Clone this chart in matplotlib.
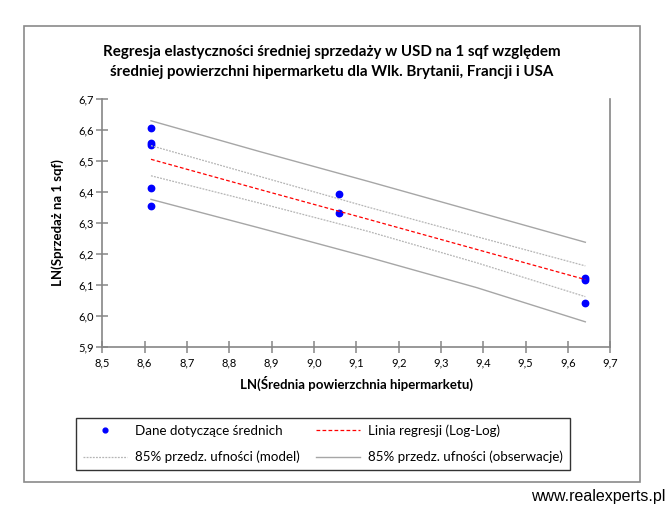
import matplotlib
matplotlib.use("Agg")
import matplotlib.pyplot as plt
from matplotlib.patches import Rectangle
from matplotlib.ticker import FuncFormatter, MultipleLocator

plt.rcParams['font.family'] = ['Lato', 'DejaVu Sans']

# ---- data ----
x_points = [8.615, 8.615, 8.615, 8.615, 8.615, 9.06, 9.06, 9.641, 9.641, 9.641]
y_points = [6.607, 6.556, 6.550, 6.412, 6.355, 6.392, 6.331, 6.122, 6.117, 6.042]

x_line = [8.615, 8.8715, 9.128, 9.3845, 9.641]
y_reg = [6.505, 6.408, 6.312, 6.215, 6.118]
model_upper = [6.549, 6.450, 6.351, 6.256, 6.162]
model_lower = [6.452, 6.364, 6.273, 6.172, 6.063]
obs_upper = [6.629, 6.530, 6.434, 6.336, 6.238]
obs_lower = [6.376, 6.284, 6.190, 6.092, 5.982]

title = ("Regresja elastyczności średniej sprzedaży w USD na 1 sqf względem\n"
         "średniej powierzchni hipermarketu dla Wlk. Brytanii, Francji i USA")
xlabel = "LN(Średnia powierzchnia hipermarketu)"
ylabel = "LN(Sprzedaż na 1 sqf)"
labels = ["Dane dotyczące średnich", "Linia regresji (Log-Log)",
          "85% przedz. ufności (model)", "85% przedz. ufności (obserwacje)"]

W, H = 671, 513
fig = plt.figure(figsize=(W / 100, H / 100), dpi=100)
fig.patch.set_facecolor('white')

# outer chart border
fig.add_artist(Rectangle((24 / W, 1 - 482 / H), (640 - 24) / W, (482 - 26) / H,
                         transform=fig.transFigure, fill=False,
                         edgecolor='#8a8a8a', linewidth=1.2))

ax = fig.add_axes([102.3 / W, 1 - 347.3 / H, (610.3 - 102.3) / W, (347.3 - 98.7) / H])
ax.set_xlim(8.5, 9.7)
ax.set_ylim(5.9, 6.7)

sc, = ax.plot(x_points, y_points, 'o', color='#0000ff', markersize=4.6,
              linestyle='none', label=labels[0])
reg, = ax.plot(x_line, y_reg, color='#ff0000', linewidth=0.9,
               dashes=(3, 1.8), label=labels[1])
mu, = ax.plot(x_line, model_upper, color='#b5b5b5', linewidth=0.9,
              dashes=(1.5, 1.0), label=labels[2])
ax.plot(x_line, model_lower, color='#b5b5b5', linewidth=0.9, dashes=(1.5, 1.0))
ou, = ax.plot(x_line, obs_upper, color='#a6a6a6', linewidth=1.0, label=labels[3])
ax.plot(x_line, obs_lower, color='#a6a6a6', linewidth=1.0)

for s in ['left', 'bottom', 'right']:
    ax.spines[s].set_color('#868686')
    ax.spines[s].set_linewidth(1.2)
ax.spines['top'].set_visible(False)

ax.xaxis.set_major_locator(MultipleLocator(0.1))
ax.yaxis.set_major_locator(MultipleLocator(0.1))
fmt = FuncFormatter(lambda v, p: f"{v:.1f}".replace('.', ','))
ax.xaxis.set_major_formatter(fmt)
ax.yaxis.set_major_formatter(fmt)
ax.tick_params(axis='both', direction='inout', length=8, width=1.1,
               color='#868686', labelsize=8, labelcolor='#000000')
ax.tick_params(axis='x', pad=3)
ax.tick_params(axis='y', pad=2)

ax.set_xlabel(xlabel, fontsize=9.5, fontweight='bold', labelpad=6)
ax.set_ylabel(ylabel, fontsize=9.5, fontweight='bold', labelpad=10)

fig.text(332 / W, 1 - 62 / H, title, ha='center', va='center', fontsize=10.9,
         fontweight='bold', linespacing=1.6)

leg = fig.legend(handles=[sc, mu, reg, ou],
                 labels=[labels[0], labels[2], labels[1], labels[3]], ncol=2,
                 loc='lower left', mode='expand',
                 bbox_to_anchor=(76 / W, 1 - 470 / H, (570 - 76) / W, (470 - 417) / H),
                 fontsize=9.6, frameon=True, fancybox=False, handlelength=3.3,
                 handletextpad=0.6, borderaxespad=0, borderpad=0.5,
                 labelspacing=1.05, columnspacing=1.0, numpoints=1,
                 markerscale=0.75)
leg.get_frame().set_edgecolor('#000000')
leg.get_frame().set_linewidth(1.0)

fig.text(665 / W, 1 - 497 / H, "www.realexperts.pl", ha='right', va='center',
         fontsize=11.5, family=['Liberation Sans', 'DejaVu Sans'])

fig.savefig('out.png', dpi=100)
